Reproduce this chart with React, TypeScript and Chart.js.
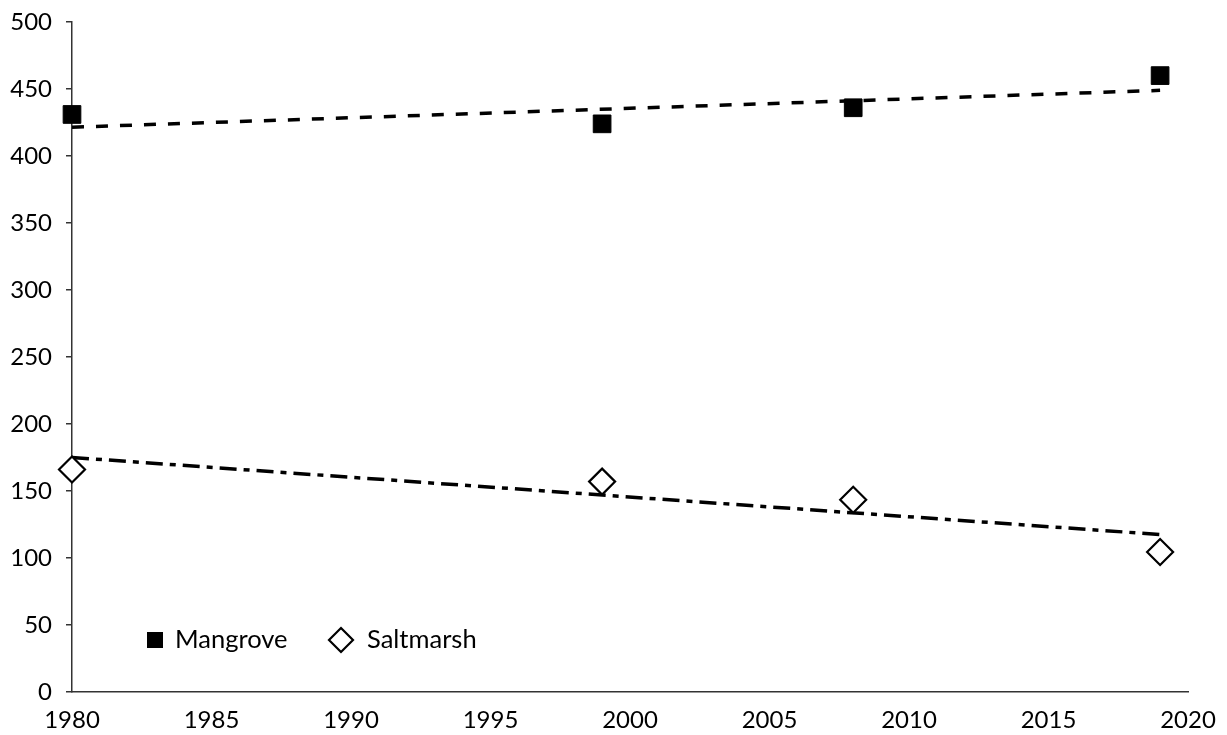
import React, { useEffect, useRef } from "react";
import { Chart, registerables } from "chart.js";

Chart.register(...registerables);

const mangroveYears = [1980, 1999, 2008, 2019];
const mangroveValues = [431, 424, 436, 460];
const saltmarshYears = [1980, 1999, 2008, 2019];
const saltmarshValues = [166, 157, 143.5, 104.5];
const trendYears = [1980, 2019];
const mangroveTrend = [421.5, 449];
const saltmarshTrend = [175, 117.5];
const legendLabels = ["Mangrove", "Saltmarsh"];

const FONT = "Lato, 'Open Sans', sans-serif";

const legendPlugin = {
  id: "insideLegend",
  afterDraw(chart: any) {
    const ctx = chart.ctx as CanvasRenderingContext2D;
    const cy = 640;
    ctx.save();
    ctx.fillStyle = "#000";
    ctx.fillRect(147, cy - 8, 16, 16);
    ctx.font = `25.5px ${FONT}`;
    ctx.textBaseline = "middle";
    ctx.textAlign = "left";
    ctx.fillText(legendLabels[0], 175, cy);
    const dx = 341;
    const h = 12;
    ctx.beginPath();
    ctx.moveTo(dx, cy - h);
    ctx.lineTo(dx + h, cy);
    ctx.lineTo(dx, cy + h);
    ctx.lineTo(dx - h, cy);
    ctx.closePath();
    ctx.fillStyle = "#fff";
    ctx.fill();
    ctx.lineWidth = 2.2;
    ctx.strokeStyle = "#000";
    ctx.stroke();
    ctx.fillStyle = "#000";
    ctx.fillText(legendLabels[1], 367, cy);
    ctx.restore();
  },
};

export default function App() {
  const ref = useRef<HTMLCanvasElement>(null);

  useEffect(() => {
    document.body.style.margin = "0";
    const canvas = ref.current!;
    const chart = new Chart(canvas, {
      type: "scatter",
      data: {
        datasets: [
          {
            label: "Mangrove trend",
            type: "line",
            data: trendYears.map((x, i) => ({ x, y: mangroveTrend[i] })),
            borderColor: "#000",
            borderWidth: 3.5,
            borderDash: [12, 12],
            pointRadius: 0,
            showLine: true,
            fill: false,
            clip: false as any,
            order: 3,
          },
          {
            label: "Saltmarsh trend",
            type: "line",
            data: trendYears.map((x, i) => ({ x, y: saltmarshTrend[i] })),
            borderColor: "#000",
            borderWidth: 3.5,
            borderDash: [17, 7, 6, 7],
            pointRadius: 0,
            showLine: true,
            fill: false,
            clip: false as any,
            order: 3,
          },
          {
            label: legendLabels[0],
            data: mangroveYears.map((x, i) => ({ x, y: mangroveValues[i] })),
            pointStyle: "rect",
            pointRadius: 12.5,
            pointBackgroundColor: "#000",
            pointBorderColor: "#000",
            pointBorderWidth: 1,
            clip: false as any,
            order: 1,
          },
          {
            label: legendLabels[1],
            data: saltmarshYears.map((x, i) => ({ x, y: saltmarshValues[i] })),
            pointStyle: "rectRot",
            pointRadius: 13,
            pointBackgroundColor: "#fff",
            pointBorderColor: "#000",
            pointBorderWidth: 2.2,
            clip: false as any,
            order: 1,
          },
        ],
      },
      options: {
        animation: false,
        responsive: false,
        layout: { padding: { top: 22, right: 39, left: 0, bottom: 0 } },
        plugins: {
          legend: { display: false },
          tooltip: { enabled: false },
        },
        scales: {
          x: {
            type: "linear",
            min: 1980,
            max: 2020,
            afterFit: (s: any) => {
              s.height = 43;
              s.paddingLeft = 0;
              s.paddingRight = 0;
            },
            ticks: {
              stepSize: 5,
              color: "#000",
              font: { family: FONT, size: 24 },
              padding: 14,
              maxRotation: 0,
              autoSkip: false,
              callback: (v: any) => String(v),
            },
            grid: { display: false, drawTicks: false },
            border: { display: true, color: "#333", width: 1.5 },
          },
          y: {
            type: "linear",
            min: 0,
            max: 500,
            afterFit: (s: any) => {
              s.width = 72;
              s.paddingTop = 0;
              s.paddingBottom = 0;
            },
            ticks: {
              stepSize: 50,
              color: "#000",
              font: { family: FONT, size: 24 },
              padding: 14,
            },
            grid: {
              display: true,
              drawOnChartArea: false,
              drawTicks: true,
              tickLength: 6,
              color: "#333",
              lineWidth: 1.5,
            },
            border: { display: true, color: "#333", width: 1.5 },
          },
        },
      },
      plugins: [legendPlugin],
    });
    return () => chart.destroy();
  }, []);

  return (
    <canvas
      ref={ref}
      width={1227}
      height={735}
      style={{ display: "block", width: 1227, height: 735 }}
    />
  );
}
